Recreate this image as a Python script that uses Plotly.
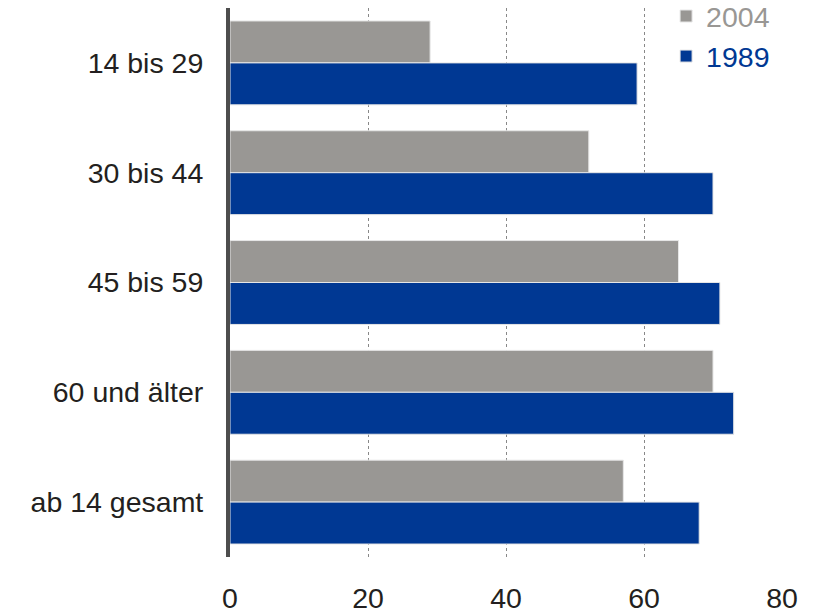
import plotly.graph_objects as go

categories = ["14 bis 29", "30 bis 44", "45 bis 59", "60 und älter", "ab 14 gesamt"]
values_2004 = [29, 52, 65, 70, 57]
values_1989 = [59, 70, 71, 73, 68]
x_ticks = [0, 20, 40, 60, 80]

GRAY = "#999794"
BLUE = "#003893"
FONT = "Liberation Sans, Arial, sans-serif"
FS = 28.5

fig = go.Figure()
fig.add_trace(go.Bar(
    y=categories, x=values_2004, orientation="h",
    name="<span style='color:#999794'>2004</span>",
    marker=dict(color=GRAY, line=dict(color="#e6e6e6", width=1)),
    legendgroup="a",
))
fig.add_trace(go.Bar(
    y=categories, x=values_1989, orientation="h",
    name="<span style='color:#003893'>1989</span>",
    marker=dict(color=BLUE, line=dict(color="#e6e6e6", width=1)),
    legendgroup="b",
))

fig.update_layout(
    width=813, height=613,
    margin=dict(l=230, r=31, t=8, b=56, autoexpand=False),
    paper_bgcolor="white", plot_bgcolor="white",
    barmode="group", bargap=0.236, bargroupgap=0,
    font=dict(family=FONT, size=FS, color="#231f20"),
    legend=dict(
        x=0.79, y=1.031, xanchor="left", yanchor="top",
        bgcolor="rgba(0,0,0,0)", tracegroupgap=5,
        font=dict(size=FS), traceorder="normal",
    ),
    xaxis=dict(
        range=[0, 80], tickvals=x_ticks, showgrid=True,
        gridcolor="#888888", griddash="dot", gridwidth=1,
        zeroline=False, showline=False, automargin=False,
        ticks="outside", ticklen=16, tickcolor="rgba(0,0,0,0)",
        tickfont=dict(size=FS),
    ),
    yaxis=dict(
        autorange="reversed", showline=True, linecolor="#4d4d4d", linewidth=4,
        ticks="outside", ticklen=17, tickcolor="rgba(0,0,0,0)",
        tickfont=dict(size=FS), showgrid=False, automargin=False,
    ),
)

fig.write_html("out.html")
